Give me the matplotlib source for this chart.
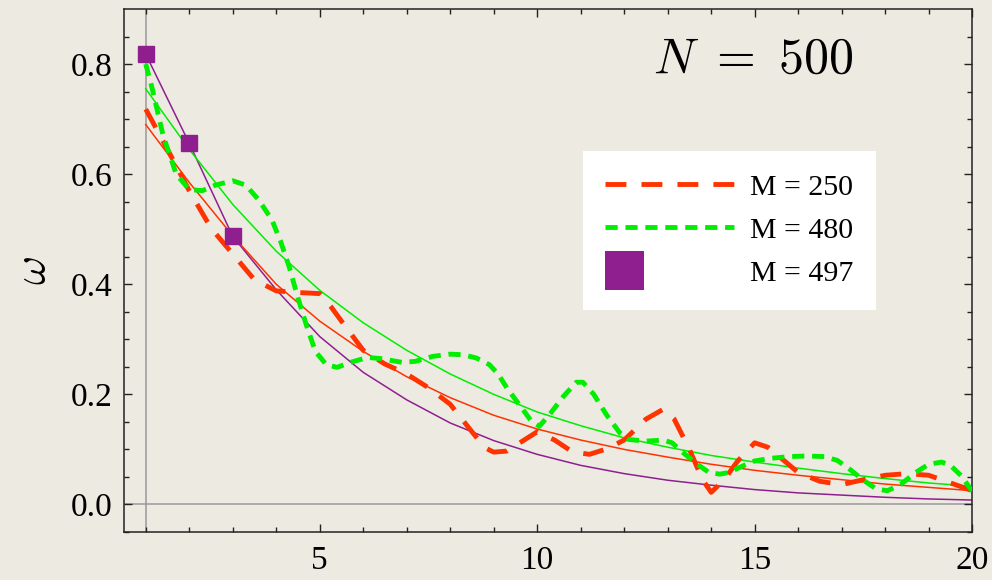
import numpy as np
import matplotlib.pyplot as plt
from matplotlib.lines import Line2D
from matplotlib.patches import Rectangle
from matplotlib.legend_handler import HandlerBase

plt.rcParams['mathtext.fontset'] = 'cm'

# data
red_x = [1.0, 1.5, 2.0, 2.5, 3.0, 3.5, 4.0, 4.5, 5.0, 5.25, 5.5, 6.0, 6.5, 7.0, 7.5,
         8.0, 8.5, 8.8, 9.0, 9.3, 9.6, 10.0, 10.4, 10.8, 11.2, 11.6, 12.0, 12.5, 12.9,
         13.15, 13.5, 13.8, 14.0, 14.3, 14.6, 15.0, 15.3, 15.7, 16.0, 16.5, 17.0, 17.5,
         18.0, 18.5, 19.0, 19.4, 20.0]
red_y = [0.718, 0.645, 0.570, 0.502, 0.455, 0.408, 0.388, 0.385, 0.383, 0.360, 0.333,
         0.280, 0.255, 0.237, 0.212, 0.182, 0.132, 0.103, 0.095, 0.097, 0.112, 0.132,
         0.117, 0.096, 0.091, 0.101, 0.117, 0.155, 0.173, 0.155, 0.100, 0.045, 0.022,
         0.045, 0.078, 0.112, 0.104, 0.078, 0.058, 0.042, 0.036, 0.045, 0.053, 0.056,
         0.053, 0.042, 0.025]

green_x = [1.0, 1.15, 1.4, 1.7, 2.0, 2.3, 2.6, 3.0, 3.3, 3.6, 3.9, 4.1, 4.3, 4.5, 4.7,
           4.9, 5.15, 5.4, 5.7, 6.1, 6.4, 6.9, 7.2, 7.6, 8.0, 8.3, 8.6, 8.9, 9.1, 9.3,
           9.6, 9.85, 10.05, 10.3, 10.6, 10.9, 11.05, 11.3, 11.6, 11.9, 12.1, 12.5, 12.9,
           13.1, 13.4, 13.7, 13.95, 14.2, 14.4, 14.7, 15.0, 15.4, 15.8, 16.2, 16.6, 16.9,
           17.2, 17.5, 17.8, 18.05, 18.35, 18.7, 19.0, 19.3, 19.5, 19.75, 20.0]
green_y = [0.800, 0.755, 0.670, 0.600, 0.572, 0.570, 0.580, 0.588, 0.580, 0.553, 0.517,
           0.478, 0.431, 0.375, 0.324, 0.278, 0.254, 0.249, 0.258, 0.267, 0.265, 0.258,
           0.260, 0.269, 0.273, 0.272, 0.266, 0.254, 0.237, 0.212, 0.180, 0.153, 0.142,
           0.165, 0.196, 0.222, 0.222, 0.200, 0.162, 0.130, 0.118, 0.115, 0.117, 0.112,
           0.091, 0.072, 0.058, 0.055, 0.058, 0.069, 0.079, 0.084, 0.087, 0.088, 0.087,
           0.080, 0.063, 0.044, 0.028, 0.025, 0.036, 0.058, 0.073, 0.077, 0.071, 0.052,
           0.024]

purple_x = [1, 2, 3]
purple_y = [0.818, 0.656, 0.487]

fit_x = list(range(1, 21))
red_fit = [0.690, 0.585, 0.488, 0.400, 0.333, 0.278, 0.232, 0.194, 0.162, 0.137,
           0.117, 0.100, 0.086, 0.073, 0.062, 0.053, 0.045, 0.037, 0.031, 0.025]
green_fit = [0.755, 0.645, 0.545, 0.460, 0.389, 0.330, 0.280, 0.237, 0.200, 0.168,
             0.143, 0.121, 0.104, 0.089, 0.077, 0.066, 0.056, 0.047, 0.039, 0.033]
purple_fit = [0.818, 0.656, 0.487, 0.390, 0.305, 0.240, 0.190, 0.148, 0.116, 0.091,
              0.071, 0.056, 0.044, 0.035, 0.027, 0.021, 0.017, 0.013, 0.010, 0.008]

labels = ['M = 250', 'M = 480', 'M = 497']

RED = '#ff3300'
GREEN = '#00ee00'
PURPLE = '#8f1f8f'
BG = '#edeae2'


class SquareHandler(HandlerBase):
    # big square at the left end of the handle box, like the original legend
    def create_artists(self, legend, orig_handle, xdescent, ydescent,
                       width, height, fontsize, trans):
        side = 28
        y0 = -ydescent + height / 2 - side / 2
        sq = Rectangle((-xdescent, y0), side, side, facecolor=PURPLE,
                       edgecolor='none', transform=trans)
        return [sq]


fig = plt.figure(figsize=(9.92, 5.8), dpi=100, facecolor=BG)
ax = fig.add_axes([0.125, 0.0828, 0.855, 0.9017])
ax.set_facecolor(BG)

# axes lines
ax.axvline(1, color='#999999', lw=1.1, zorder=1)
ax.axhline(0, color='#999999', lw=1.1, zorder=1)

# fitted curves
ax.plot(fit_x, purple_fit, color=PURPLE, lw=1.1, zorder=2)
ax.plot(fit_x, red_fit, color=RED, lw=1.1, zorder=2)
ax.plot(fit_x, green_fit, color=GREEN, lw=1.1, zorder=2)

# data
ax.plot(red_x, red_y, color=RED, lw=3.5, dashes=(4.3, 3.1), dash_capstyle='butt', zorder=3)
ax.plot(green_x, green_y, color=GREEN, lw=3.5, dashes=(2.5, 1.6), dash_capstyle='butt', zorder=3)
ax.plot(purple_x, purple_y, 's', color=PURPLE, ms=11.5, zorder=4)

ax.set_xlim(0.5, 20)
ax.set_ylim(-0.05, 0.9)
ax.set_xticks([5, 10, 15, 20])
ax.set_xticks(range(1, 21), minor=True)
ax.set_yticks([0.0, 0.2, 0.4, 0.6, 0.8])
ax.set_yticks(np.arange(-0.05, 0.9, 0.05), minor=True)
ax.set_yticklabels(['0.0', '0.2', '0.4', '0.6', '0.8'])

ax.tick_params(which='both', direction='in', top=True, right=True, width=1, color='#222222')
ax.tick_params(which='major', length=6)
ax.tick_params(which='minor', length=3.5)
ax.tick_params(axis='x', pad=10)
ax.tick_params(axis='y', pad=8)
for lab in ax.get_xticklabels() + ax.get_yticklabels():
    lab.set_fontfamily('Liberation Serif')
    lab.set_fontsize(24)
for sp in ax.spines.values():
    sp.set_linewidth(1.1)
    sp.set_color('#222222')

ax.set_ylabel(r'$\omega$', fontsize=32, labelpad=12)

ax.text(0.742, 0.905, r'$N\ =\ 500$', transform=ax.transAxes, fontsize=36,
        ha='center', va='center')

handles = [
    Line2D([], [], color=RED, lw=3.5, dashes=(4.3, 3.1), dash_capstyle='butt'),
    Line2D([], [], color=GREEN, lw=3.5, dashes=(2.5, 1.6), dash_capstyle='butt'),
    Rectangle((0, 0), 1, 1, facecolor=PURPLE),
]
leg = ax.legend(handles, labels, loc='upper left', bbox_to_anchor=(0.541, 0.728),
                borderaxespad=0, frameon=True, fancybox=False, framealpha=1,
                facecolor='white', edgecolor='none', handlelength=4.3,
                handletextpad=0.55, labelspacing=0.55, borderpad=0.75,
                handler_map={Rectangle: SquareHandler()},
                prop={'family': 'Liberation Serif', 'size': 21.5})

plt.savefig('out.png', dpi=100, facecolor=BG)
